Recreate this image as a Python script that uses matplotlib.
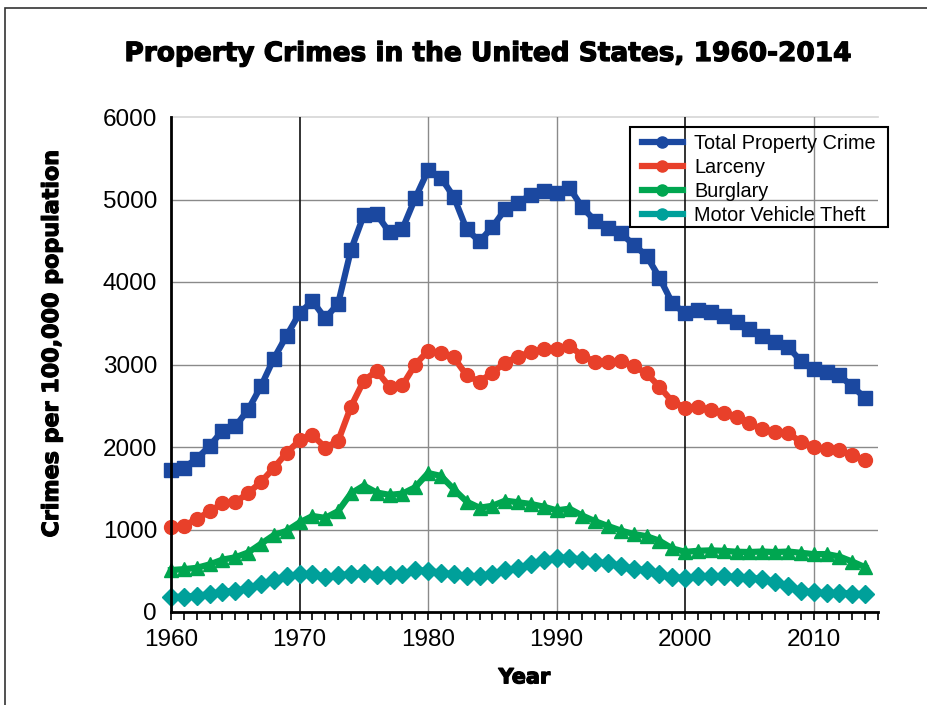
import matplotlib
matplotlib.use("Agg")
import matplotlib.pyplot as plt
import matplotlib.patheffects as pe
from matplotlib.lines import Line2D
from matplotlib.patches import Rectangle
from matplotlib.ticker import MultipleLocator

years = list(range(1960, 2015))
total = [1726.3, 1747.9, 1857.5, 2012.1, 2197.5, 2248.8, 2450.9, 2736.5, 3071.8, 3351.3,
         3621.0, 3768.8, 3560.4, 3737.0, 4389.3, 4810.7, 4819.5, 4601.7, 4642.5, 5016.6,
         5353.3, 5263.9, 5032.5, 4637.4, 4492.1, 4666.4, 4881.8, 4963.0, 5054.0, 5107.1,
         5073.1, 5140.2, 4903.7, 4740.0, 4660.2, 4590.5, 4451.0, 4316.3, 4052.5, 3743.6,
         3618.3, 3658.1, 3630.6, 3591.2, 3514.1, 3431.5, 3346.6, 3276.4, 3214.6, 3041.3,
         2945.9, 2905.4, 2868.0, 2733.6, 2596.1]
larceny = [1034.7, 1045.4, 1124.8, 1219.1, 1315.5, 1329.3, 1442.9, 1575.8, 1746.6, 1930.9,
           2079.3, 2145.5, 1993.6, 2071.9, 2489.5, 2804.8, 2921.3, 2729.9, 2747.4, 2999.1,
           3167.0, 3139.7, 3084.9, 2868.9, 2791.3, 2901.2, 3022.1, 3095.4, 3151.7, 3189.6,
           3185.1, 3229.1, 3103.6, 3033.9, 3026.9, 3043.2, 2980.3, 2891.8, 2729.5, 2550.7,
           2477.3, 2485.7, 2450.7, 2416.5, 2362.3, 2287.8, 2213.2, 2185.4, 2166.1, 2064.5,
           2005.8, 1974.1, 1965.4, 1899.4, 1837.3]
burglary = [508.6, 518.9, 535.2, 576.4, 634.7, 662.7, 721.0, 826.6, 932.3, 984.1,
            1084.9, 1163.5, 1140.8, 1222.5, 1437.7, 1532.1, 1448.2, 1419.8, 1434.6, 1511.9,
            1684.1, 1649.5, 1488.8, 1337.7, 1263.7, 1287.3, 1349.8, 1329.6, 1309.2, 1276.3,
            1232.2, 1252.1, 1168.4, 1099.7, 1042.1, 987.0, 945.0, 918.8, 863.2, 770.4,
            728.8, 741.8, 747.0, 741.0, 730.3, 726.9, 733.1, 726.1, 733.0, 717.7,
            701.0, 702.2, 672.2, 610.5, 542.5]
mvt = [183.0, 183.6, 197.4, 216.6, 247.4, 256.8, 286.9, 334.1, 393.0, 436.2,
       456.8, 459.8, 426.1, 442.6, 462.2, 473.7, 450.0, 451.9, 460.5, 505.6,
       502.2, 474.7, 458.8, 430.8, 437.1, 462.0, 509.8, 529.4, 582.9, 630.4,
       655.8, 659.0, 631.6, 606.3, 591.3, 560.3, 525.7, 505.7, 459.9, 422.5,
       412.2, 430.5, 432.9, 433.7, 421.5, 416.8, 400.2, 364.9, 315.4, 259.2,
       239.1, 229.0, 230.4, 223.6, 216.2]

series_names = ["Total Property Crime", "Larceny", "Burglary", "Motor Vehicle Theft"]
colors = ["#1b48a0", "#e8402a", "#00a650", "#00a09a"]
markers = ["s", "o", "^", "D"]
msizes = [9.5, 10, 10, 9]

W, H = 928, 705
fig = plt.figure(figsize=(W / 100, H / 100), dpi=100)
fig.patch.set_facecolor("white")

# figure frame
fig.add_artist(Rectangle((5 / W, -0.1), 1.2, (1 - 8 / H) + 0.1, transform=fig.transFigure,
                         fill=False, edgecolor="#333333", linewidth=1.2))

ax = fig.add_axes([171 / W, 1 - 612 / H, (878 - 171) / W, (612 - 117) / H])
ax.set_xlim(1960, 2015)
ax.set_ylim(0, 6000)

# grid lines
for yv in [1000, 2000, 3000, 4000, 5000]:
    ax.axhline(yv, color="#8a8a8a", lw=1.0, zorder=1)
ax.axhline(6000, color="#d5d5d5", lw=1.2, zorder=1, clip_on=False)
for xv in [1970, 2000]:
    ax.axvline(xv, color="#111111", lw=1.2, zorder=1)
for xv in [1980, 1990, 2010]:
    ax.axvline(xv, color="#8a8a8a", lw=1.0, zorder=1)

data = [total, larceny, burglary, mvt]
for vals, c, m, ms in zip(data, colors, markers, msizes):
    ax.plot(years, vals, color=c, lw=4.5, marker=m, markersize=ms,
            markeredgecolor=c, markerfacecolor=c, solid_joinstyle="round",
            zorder=3, clip_on=False)

for s in ["top", "right"]:
    ax.spines[s].set_visible(False)
ax.spines["left"].set_linewidth(2.0)
ax.spines["bottom"].set_linewidth(2.0)
ax.spines["left"].set_zorder(4)
ax.spines["bottom"].set_zorder(4)

tick_font = ["Liberation Sans Narrow", "Liberation Sans", "DejaVu Sans"]
ax.xaxis.set_major_locator(MultipleLocator(10))
ax.xaxis.set_minor_locator(MultipleLocator(1))
ax.yaxis.set_major_locator(MultipleLocator(1000))
ax.tick_params(axis="x", which="both", direction="out", length=6, width=1.2, color="black")
ax.tick_params(axis="x", which="major", pad=6)
ax.tick_params(axis="y", which="both", length=0, pad=10)
for lab in ax.get_xticklabels() + ax.get_yticklabels():
    lab.set_fontfamily(tick_font)
    lab.set_fontsize(17.5)

heavy = [pe.withStroke(linewidth=0.9, foreground="black")]
ax.set_xlabel("Year", fontsize=15, fontweight="bold", family="DejaVu Sans", labelpad=12,
              path_effects=heavy)
fig.text(52 / W, 1 - 343 / H, "Crimes per 100,000 population", rotation=90,
         ha="center", va="center", fontsize=16, fontweight="bold", family="DejaVu Sans",
         path_effects=heavy)

fig.text(488 / W, 1 - 54 / H, "Property Crimes in the United States, 1960-2014",
         ha="center", va="center", fontsize=19, fontweight="bold", family="DejaVu Sans",
         path_effects=heavy)

# legend frame
fig.add_artist(Rectangle((630 / W, 1 - 227 / H), (888 - 630) / W, 100 / H,
                         transform=fig.transFigure, fill=False, edgecolor="black",
                         linewidth=1.5, zorder=5))
handles = [Line2D([0], [0], color=c, lw=4.5, marker="o", markersize=8, markerfacecolor=c,
                  markeredgecolor=c) for c in colors]
leg = fig.legend(handles, series_names, loc="upper left",
                 bbox_to_anchor=(642 / W, 1 - 134 / H), bbox_transform=fig.transFigure,
                 frameon=False,
                 prop={"family": ["Liberation Sans", "DejaVu Sans"], "size": 14.3},
                 labelspacing=0.25, handlelength=2.05, handletextpad=0.58,
                 borderpad=0, borderaxespad=0)

fig.savefig("out.png", dpi=100)
